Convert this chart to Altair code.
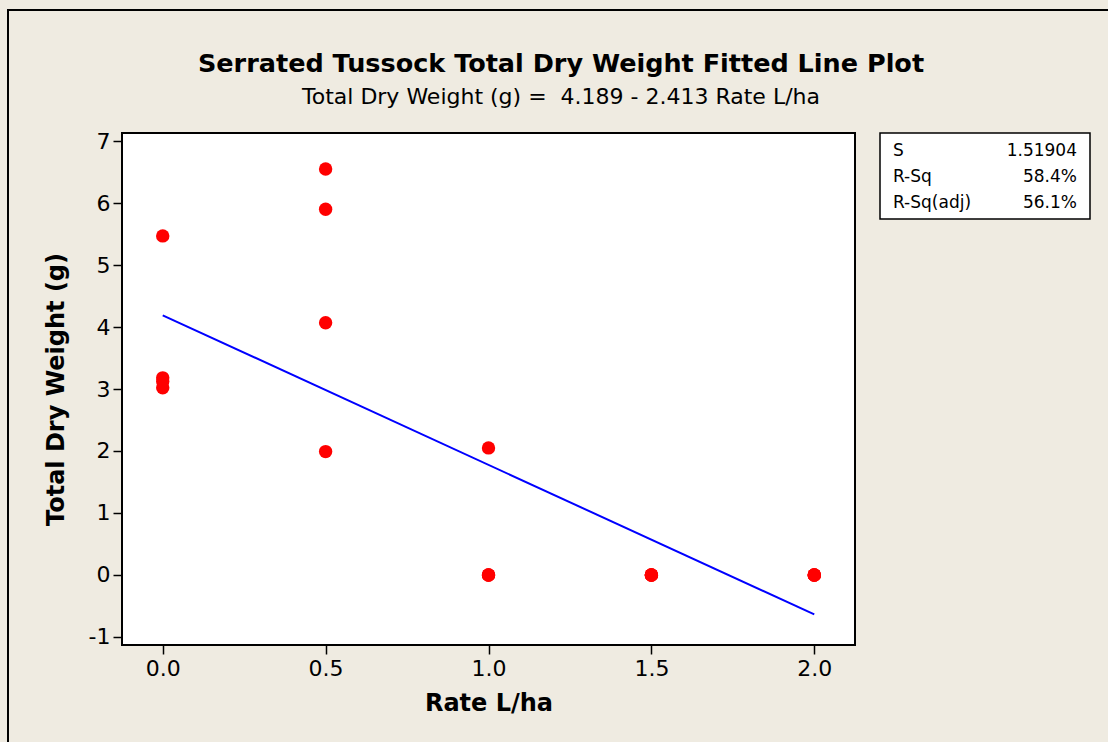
import altair as alt
import pandas as pd

# Observed total dry weight per application rate
rate = [0.0, 0.0, 0.0, 0.0,
        0.5, 0.5, 0.5, 0.5,
        1.0, 1.0, 1.0, 1.0,
        1.5, 1.5, 1.5, 1.5,
        2.0, 2.0, 2.0, 2.0]
dry_weight = [5.47, 3.18, 3.12, 3.02,
              6.55, 5.90, 4.07, 1.99,
              2.05, 0.0, 0.0, 0.0,
              0.0, 0.0, 0.0, 0.0,
              0.0, 0.0, 0.0, 0.0]

# Fitted regression coefficients
intercept = 4.189
slope = -2.413

# Summary statistics
stat_names = ["S", "R-Sq", "R-Sq(adj)"]
stat_values = ["1.51904", "58.4%", "56.1%"]

x_ticks = [0.0, 0.5, 1.0, 1.5, 2.0]
y_ticks = [-1, 0, 1, 2, 3, 4, 5, 6, 7]

title_text = "Serrated Tussock Total Dry Weight Fitted Line Plot"
subtitle_text = f"Total Dry Weight (g) =\u00a0 {intercept} - {abs(slope)} Rate L/ha"

FONT = "DejaVu Sans"
BG = "#EFEBE1"

points_df = pd.DataFrame({"rate": rate, "weight": dry_weight})
fit_x = [0.0, 2.0]
fit_df = pd.DataFrame({"rate": fit_x, "weight": [intercept + slope * v for v in fit_x]})
stats_df = pd.DataFrame({"names": ["\n".join(stat_names)], "values": ["\n".join(stat_values)]})
one = pd.DataFrame({"k": [0]})

x_scale = alt.Scale(domain=[-0.125, 2.125], nice=False, zero=False)
y_scale = alt.Scale(domain=[-1.13, 7.13], nice=False, zero=False)

x_enc = alt.X(
    "rate:Q", scale=x_scale,
    axis=alt.Axis(title="Rate L/ha", values=x_ticks, format=".1f", grid=False,
                  domain=False, tickColor="black", tickSize=9, tickWidth=1.5,
                  labelFontSize=22, labelFont=FONT, labelColor="black", labelPadding=4,
                  titleFontSize=24, titleFont=FONT, titleFontWeight="bold",
                  titleColor="black", titlePadding=12),
)
y_enc = alt.Y(
    "weight:Q", scale=y_scale,
    axis=alt.Axis(title="Total Dry Weight (g)", values=y_ticks, labelExpr="'' + datum.value",
                  grid=False, domain=False, tickColor="black", tickSize=9, tickWidth=1.5,
                  labelFontSize=22, labelFont=FONT, labelColor="black", labelPadding=3,
                  titleFontSize=24, titleFont=FONT, titleFontWeight="bold",
                  titleColor="black", titlePadding=20),
)

points = alt.Chart(points_df).mark_circle(size=180, color="#FF0000", opacity=1).encode(
    x=x_enc, y=y_enc
)

fit_line = alt.Chart(fit_df).mark_line(color="#0000FF", strokeWidth=2).encode(
    x=alt.X("rate:Q", scale=x_scale), y=alt.Y("weight:Q", scale=y_scale)
)

# Outer frame around the whole figure
outer = alt.Chart(one).mark_rect(
    fill=None, stroke="black", strokeWidth=2, clip=False
).encode(x=alt.value(-114), x2=alt.value(1100), y=alt.value(-123), y2=alt.value(700))

# Heading and fitted equation
heading = alt.Chart(one).mark_text(
    align="center", baseline="middle", font=FONT, fontSize=25.5, fontWeight="bold",
    color="black", clip=False
).encode(x=alt.value(439), y=alt.value(-69), text=alt.value(title_text))

equation = alt.Chart(one).mark_text(
    align="center", baseline="middle", font=FONT, fontSize=22, color="black", clip=False
).encode(x=alt.value(439), y=alt.value(-36), text=alt.value(subtitle_text))

# Statistics box to the right of the plot
box = alt.Chart(one).mark_rect(
    fill="white", stroke="black", strokeWidth=1.5, clip=False
).encode(x=alt.value(758), x2=alt.value(968), y=alt.value(0), y2=alt.value(86))

stat_labels = alt.Chart(stats_df).mark_text(
    align="left", baseline="middle", font=FONT, fontSize=17, color="black",
    lineBreak="\n", lineHeight=26, clip=False
).encode(x=alt.value(771), y=alt.value(18), text="names:N")

stat_nums = alt.Chart(stats_df).mark_text(
    align="right", baseline="middle", font=FONT, fontSize=17, color="black",
    lineBreak="\n", lineHeight=26, clip=False
).encode(x=alt.value(955), y=alt.value(18), text="values:N")

chart = alt.layer(
    outer, fit_line, points, heading, equation, box, stat_labels, stat_nums
).properties(
    width=733,
    height=512,
    background=BG,
    padding={"left": 122, "top": 133, "right": 253, "bottom": 97},
    autosize=alt.AutoSizeParams(type="none"),
).configure_view(
    fill="white", stroke="black", strokeWidth=2
)

chart.save("out.html", embed_options={"renderer": "svg", "actions": False})
